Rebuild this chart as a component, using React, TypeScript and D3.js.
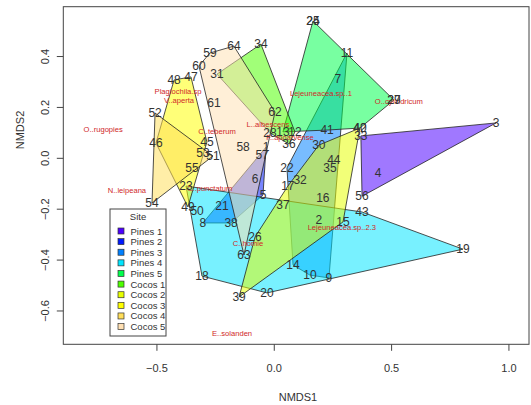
import React from "react";
import * as d3 from "d3";

const groupNames = ["Pines 1","Pines 2","Pines 3","Pines 4","Pines 5","Cocos 1","Cocos 2","Cocos 3","Cocos 4","Cocos 5"];
const groupColors = ["#4C00FF","#0019FF","#0080FF","#00E5FF","#00FF4D","#4DFF00","#E6FF00","#FFFF00","#FFDE59","#FFE0B3"];

// site id, NMDS1, NMDS2, group index
const siteIds = [1,2,3,4,5,6,7,8,9,10,11,12,13,14,15,16,17,18,19,20,21,22,23,24,25,26,27,28,29,30,31,32,33,34,35,36,37,38,39,40,41,42,43,44,45,46,47,48,49,50,51,52,53,54,55,56,57,58,59,60,61,62,63,64];
const siteX = [-0.035,0.190,0.945,0.442,-0.048,-0.082,0.271,-0.304,0.233,0.152,0.310,0.088,0.037,0.080,0.293,0.207,0.058,-0.308,0.804,-0.031,-0.223,0.054,-0.376,0.165,0.165,-0.082,0.510,-0.018,0.510,0.190,-0.244,0.110,0.369,-0.057,0.237,0.063,0.037,-0.184,-0.150,0.365,0.225,0.365,0.374,0.254,-0.287,-0.504,-0.355,-0.427,-0.368,-0.329,-0.261,-0.508,-0.304,-0.521,-0.351,0.374,-0.052,-0.133,-0.274,-0.321,-0.257,0.003,-0.129,-0.172];
const siteY = [0.044,-0.243,0.139,-0.058,-0.144,-0.081,0.312,-0.254,-0.470,-0.459,0.414,0.104,0.104,-0.419,-0.250,-0.156,-0.109,-0.463,-0.357,-0.529,-0.188,-0.038,-0.109,0.540,0.540,-0.309,0.229,0.100,0.229,0.052,0.331,-0.085,0.088,0.449,-0.038,0.056,-0.184,-0.254,-0.545,0.119,0.111,0.119,-0.211,-0.007,0.064,0.060,0.320,0.308,-0.191,-0.207,0.009,0.178,0.021,-0.176,-0.038,-0.149,0.013,0.044,0.414,0.363,0.217,0.182,-0.380,0.441];
const siteGroup = [1,6,0,0,1,1,2,1,2,2,2,5,4,2,6,2,6,3,3,3,1,2,3,4,4,6,4,5,4,6,5,6,0,5,6,5,6,1,6,6,4,4,3,6,7,7,7,7,7,3,8,8,7,8,7,0,1,9,9,9,9,9,9,9];

const speciesNames = ["O..rugopies","Plagiochila.sp","V..aperta","C..teberum","L..albescens","F..apoarvense","Lejeuneacea.sp..1","O..cylindricum","C..punctatum","N..leipeana","C..homie","Lejeuneacea.sp..2.3","E..solanden"];
const speciesX = [-0.729,-0.410,-0.406,-0.244,-0.027,0.067,0.199,0.531,-0.275,-0.628,-0.112,0.288,-0.180];
const speciesY = [0.115,0.264,0.229,0.107,0.134,0.080,0.256,0.225,-0.117,-0.125,-0.333,-0.270,-0.687];

const xTicks = [-0.5, 0, 0.5, 1.0];
const yTicks = [-0.6, -0.4, -0.2, 0, 0.2, 0.4];

const W = 531, H = 405;
const L = 63.3, R = 529, T = 6.7, B = 344.3;
const font = "Liberation Sans, Arial, sans-serif";

export default function App() {
  const x = d3.scaleLinear().domain([-0.899, 1.0855]).range([L, R]);
  const y = d3.scaleLinear().domain([-0.731, 0.5959]).range([B, T]);

  const hulls = groupNames.map((_, g) => {
    const pts: [number, number][] = [];
    siteIds.forEach((_, i) => {
      if (siteGroup[i] === g) pts.push([x(siteX[i]), y(siteY[i])]);
    });
    return d3.polygonHull(pts);
  });

  const legX = 110, legY = 209, legW = 56, legH = 127;

  return (
    <svg width={W} height={H} style={{ position: "absolute", left: 0, top: 0, background: "#fff" }} fontFamily={font}>
      <rect x={0} y={0} width={W} height={H} fill="#fff" />
      {hulls.map((h, g) => h ? (
        <path key={g} d={"M" + h.map(p => p.join(",")).join("L") + "Z"}
          fill={groupColors[g]} fillOpacity={0.53} stroke="#222" strokeWidth={0.8} />
      ) : null)}
      {speciesNames.map((s, i) => (
        <text key={"sp" + i} x={x(speciesX[i])} y={y(speciesY[i])} fontSize={7.6} fill="#d02828"
          textAnchor="middle" dominantBaseline="central">{s}</text>
      ))}
      {siteIds.map((id, i) => (
        <text key={"s" + id} x={x(siteX[i])} y={y(siteY[i])} fontSize={12} fill="#333"
          textAnchor="middle" dominantBaseline="central">{id}</text>
      ))}
      <rect x={L} y={T} width={R - L} height={B - T} fill="none" stroke="#444" strokeWidth={1} />
      {xTicks.map(t => (
        <g key={"xt" + t}>
          <line x1={x(t)} x2={x(t)} y1={B} y2={B + 6.5} stroke="#444" />
          <text x={x(t)} y={368} fontSize={11} fill="#333" textAnchor="middle" dominantBaseline="central">{d3.format(".1f")(t)}</text>
        </g>
      ))}
      {yTicks.map(t => (
        <g key={"yt" + t}>
          <line x1={L} x2={L - 6.5} y1={y(t)} y2={y(t)} stroke="#444" />
          <text transform={`translate(45,${y(t)}) rotate(-90)`} fontSize={11} fill="#333" textAnchor="middle" dominantBaseline="central">{d3.format(".1f")(t)}</text>
        </g>
      ))}
      <text x={298} y={397} fontSize={11} fill="#333" textAnchor="middle" dominantBaseline="central">NMDS1</text>
      <text transform="translate(20,130) rotate(-90)" fontSize={11} fill="#333" textAnchor="middle" dominantBaseline="central">NMDS2</text>
      <rect x={legX} y={legY} width={legW} height={legH} fill="#fff" stroke="#444" strokeWidth={1} />
      <text x={legX + legW / 2} y={legY + 7.5} fontSize={9.5} fill="#333" textAnchor="middle" dominantBaseline="central">Site</text>
      {groupNames.map((n, i) => (
        <g key={"lg" + i}>
          <rect x={legX + 8} y={legY + 22 - 3 + i * 10.62} width={6} height={6} fill={groupColors[i]} stroke="#333" strokeWidth={0.7} />
          <text x={legX + 20.5} y={legY + 22 + i * 10.62} fontSize={9.5} fill="#333" dominantBaseline="central">{n}</text>
        </g>
      ))}
    </svg>
  );
}
